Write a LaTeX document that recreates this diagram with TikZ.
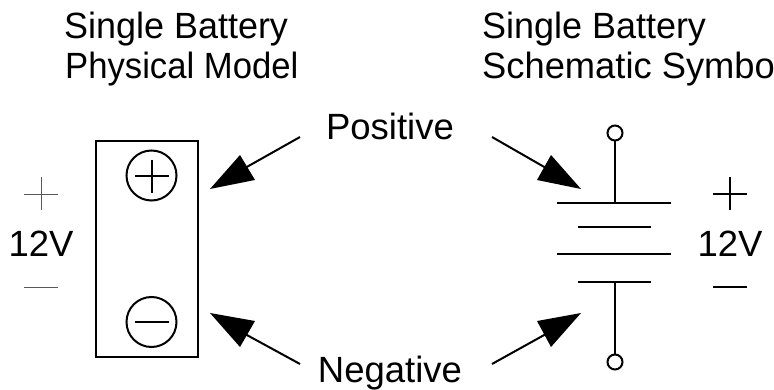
\documentclass[tikz,border=0pt]{standalone}
\usepackage{fontspec}
\setmainfont{Liberation Sans}
\tikzset{
  lbl/.style={inner sep=0pt,font=\fontsize{36.5}{41}\selectfont,text=black},
  heavy/.style={line width=2pt,draw=black},
  thinline/.style={line width=0.9pt,draw=black!65},
  callout/.style={line width=2pt,draw=black},
  head/.style={fill=black,draw=none},
  term/.style={circle,draw=black,line width=2pt,fill=white,minimum size=15pt,inner sep=0pt},
  pole/.style={circle,draw=black,line width=2pt,minimum size=50pt,inner sep=0pt}
}
\newcommand{\arrowhd}[3]{\fill[head] (#1) -- (#2) -- (#3) -- cycle;}
\begin{document}
\begin{tikzpicture}[x=1pt,y=-1pt]
\useasboundingbox (0,0) rectangle (774,390);
% headings
\node[lbl,anchor=base west] (h1a) at (64,39) {\scalebox{0.985}[1]{Single Battery}};
\node[lbl,anchor=base west] (h1b) at (65,79) {\scalebox{0.95}[1]{Physical Model}};
\node[lbl,anchor=base west] (h2a) at (482,39) {\scalebox{0.985}[1]{Single Battery}};
\node[lbl,anchor=base west] (h2b) at (482,79) {\scalebox{0.995}[1]{Schematic Symbo}};
\node[lbl,anchor=base] (pos) at (390,140) {Positive};
\node[lbl,anchor=base] (neg) at (390,382) {Negative};
% physical model
\node[draw=black,line width=2pt,minimum width=102pt,minimum height=215pt,inner sep=0pt] (box) at (147,249) {};
\node[pole] (cp) at (151.5,175.5) {};
\node[pole] (cm) at (151.5,322) {};
\draw[heavy] (135,176) -- (169,176) (152,160) -- (152,193);
\draw[heavy] (135,322) -- (169,322);
% left polarity
\coordinate (lpa) at (24,194); \coordinate (lpb) at (58,194);
\coordinate (lpc) at (41,177); \coordinate (lpd) at (41,210);
\coordinate (lma) at (24,287); \coordinate (lmb) at (58,287);
\draw[thinline] (lpa) -- (lpb) (lpc) -- (lpd) (lma) -- (lmb);
\node[lbl,anchor=base] (lv) at (41,257) {12V};
% callouts
\coordinate (a1s) at (300,137); \coordinate (a1t) at (210,189);
\coordinate (a2s) at (300,364); \coordinate (a2t) at (210,313);
\coordinate (a3s) at (492,137); \coordinate (a3t) at (581,189);
\coordinate (a4s) at (492,364); \coordinate (a4t) at (581,313);
\draw[callout] (a1s) -- (245,168);
\draw[callout] (a2s) -- (245,334);
\draw[callout] (a3s) -- (546,168);
\draw[callout] (a4s) -- (546,334);
\arrowhd{a1t}{240,155}{255,180}
\arrowhd{a2t}{240,347}{255,321}
\arrowhd{a3t}{551,155}{537,180}
\arrowhd{a4t}{551,347}{537,321}
% schematic
\node[term] (tt) at (615,133) {};
\node[term] (tb) at (615,362) {};
\coordinate (p1) at (615,203); \coordinate (p4) at (615,282);
\draw[heavy] (tt) -- (p1);
\draw[heavy] (p4) -- (tb);
\draw[heavy] (557,203) -- (671,203);
\draw[heavy] (578,227) -- (651,227);
\draw[heavy] (557,254) -- (671,254);
\draw[heavy] (578,282) -- (651,282);
% right polarity
\draw[heavy] (713,194) -- (747,194) (730,177) -- (730,210) (713,287) -- (747,287);
\node[lbl,anchor=base] (rv) at (730,257) {12V};
\end{tikzpicture}
\end{document}
